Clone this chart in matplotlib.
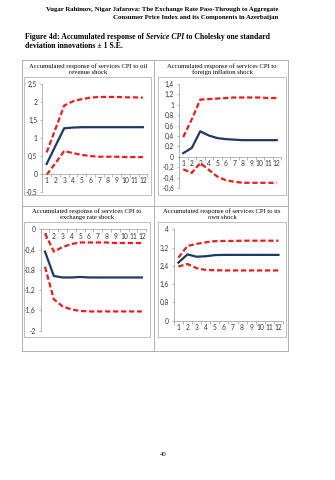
import matplotlib
matplotlib.use("Agg")
import matplotlib.pyplot as plt
from matplotlib.patches import Rectangle
from matplotlib.lines import Line2D
from matplotlib.ticker import FixedLocator, FixedFormatter, NullFormatter
import numpy as np

periods = list(range(1, 13))
xlabels = [str(p) for p in periods]

oil_resp = [0.28, 0.78, 1.27, 1.29, 1.30, 1.30, 1.30, 1.30, 1.30, 1.30, 1.30, 1.30]
oil_up = [0.60, 1.25, 1.90, 2.02, 2.08, 2.12, 2.14, 2.14, 2.14, 2.13, 2.13, 2.12]
oil_lo = [-0.02, 0.30, 0.64, 0.58, 0.53, 0.50, 0.48, 0.48, 0.48, 0.47, 0.47, 0.47]

fx_infl_resp = [0.07, 0.17, 0.49, 0.41, 0.36, 0.34, 0.33, 0.32, 0.32, 0.32, 0.32, 0.32]
fx_infl_up = [0.38, 0.72, 1.10, 1.11, 1.12, 1.13, 1.14, 1.14, 1.14, 1.14, 1.13, 1.13]
fx_infl_lo = [-0.24, -0.31, -0.12, -0.25, -0.38, -0.45, -0.48, -0.50, -0.50, -0.50, -0.50, -0.50]

exr_resp = [-0.44, -0.92, -0.95, -0.95, -0.94, -0.95, -0.95, -0.95, -0.95, -0.95, -0.95, -0.95]
exr_up = [-0.08, -0.44, -0.35, -0.29, -0.26, -0.26, -0.26, -0.26, -0.27, -0.27, -0.27, -0.27]
exr_lo = [-0.74, -1.38, -1.52, -1.58, -1.61, -1.62, -1.62, -1.62, -1.62, -1.62, -1.62, -1.62]

own_resp = [2.54, 2.90, 2.80, 2.82, 2.87, 2.88, 2.88, 2.88, 2.88, 2.88, 2.88, 2.88]
own_up = [2.76, 3.27, 3.36, 3.43, 3.48, 3.49, 3.49, 3.50, 3.50, 3.50, 3.50, 3.50]
own_lo = [2.37, 2.48, 2.30, 2.22, 2.21, 2.20, 2.20, 2.20, 2.20, 2.20, 2.20, 2.20]

titles = ["Accumulated response of services CPI to oil\nrevenue shock",
          "Accumulated response of services CPI to\nforeign inflation shock",
          "Accumulated response of services CPI to\nexchange rate shock",
          "Accumulated response of services CPI to its\nown shock"]

W, H = 335, 480
fig = plt.figure(figsize=(W / 100, H / 100), dpi=100)
fig.patch.set_facecolor("white")

def fx(x):
    return x / W

def fy(y):
    return 1 - y / H

serif = "Liberation Serif"
sans = "Lato"
NAVY = "#1f3864"
RED = "#e3201b"
GRAY = "#b0b0b0"

# Header
fig.text(fx(278), fy(9), "Vugar Rahimov, Nigar Jafarova: The Exchange Rate Pass-Through to Aggregate",
         ha="right", va="center", family=serif, weight="bold", fontsize=4.9)
fig.text(fx(278), fy(17.5), "Consumer Price Index and its Components in Azerbaijan",
         ha="right", va="center", family=serif, weight="bold", fontsize=4.9)

# Caption, composed of pieces (italic part in the middle)
renderer = fig.canvas.get_renderer()
cap_pieces = [("Figure 4d: Accumulated response of ", "normal"),
              ("Service CPI", "italic"),
              (" to Cholesky one standard", "normal")]
xcur = fx(25)
for txt, style in cap_pieces:
    t = fig.text(xcur, fy(37), txt, ha="left", va="center", family=serif, weight="bold",
                 style=style, fontsize=5.55)
    bb = t.get_window_extent(renderer=renderer)
    xcur += bb.width / W
fig.text(fx(25), fy(46.5), "deviation innovations \u00b1 1 S.E.",
         ha="left", va="center", family=serif, weight="bold", fontsize=5.55)

# Page number
fig.text(fx(163), fy(455), "40", ha="center", va="center", family=serif, fontsize=4.8)

# Table borders
def fline(x0, y0, x1, y1, color=GRAY, lw=0.7):
    fig.add_artist(Line2D([fx(x0), fx(x1)], [fy(y0), fy(y1)], color=color, lw=lw,
                          transform=fig.transFigure))

fline(22, 60, 288, 60)
fline(22, 351, 288, 351)
fline(22, 60, 22, 351)
fline(288, 60, 288, 351)
fline(154, 60, 154, 351)
fline(22, 206, 288, 206)

def fbox(x0, y0, x1, y1):
    fig.add_artist(Rectangle((fx(x0), fy(y1)), fx(x1) - fx(x0), fy(y0) - fy(y1),
                             transform=fig.transFigure, fill=False, ec="#bdbdbd", lw=0.7))

boxes = [(24, 77, 151, 195), (158, 77, 286, 195), (24, 222, 150, 337), (158, 222, 286, 337)]
for b in boxes:
    fbox(*b)

title_pos = [(88, 69), (222, 69), (87, 214), (222, 214)]
for (tx, ty), t in zip(title_pos, titles):
    fig.text(fx(tx), fy(ty), t, ha="center", va="center", family=serif, fontsize=4.8,
             linespacing=1.1)

panels = [
    dict(left=42.3, right=147.3, top=84, bottom=192, ylim=(-0.5, 2.5), yticks=np.arange(-0.5, 2.51, 0.5),
         resp=oil_resp, up=oil_up, lo=oil_lo),
    dict(left=179, right=281, top=84, bottom=188, ylim=(-0.6, 1.4), yticks=np.arange(-0.6, 1.41, 0.2),
         resp=fx_infl_resp, up=fx_infl_up, lo=fx_infl_lo),
    dict(left=40.6, right=146.2, top=229.3, bottom=330.7, ylim=(-2.0, 0.0), yticks=np.arange(-2.0, 0.01, 0.4),
         resp=exr_resp, up=exr_up, lo=exr_lo),
    dict(left=173.8, right=283, top=229.3, bottom=320.7, ylim=(0.0, 4.0), yticks=np.arange(0.0, 4.01, 0.8),
         resp=own_resp, up=own_up, lo=own_lo),
]

def fmt(v):
    v = round(v, 2)
    if abs(v) < 1e-9:
        return "0"
    s = ("%.2f" % v).rstrip("0").rstrip(".")
    return s.replace(".", ",")

for p in panels:
    ax = fig.add_axes([fx(p["left"]), fy(p["bottom"]), fx(p["right"]) - fx(p["left"]),
                       fy(p["top"]) - fy(p["bottom"])])
    ax.set_facecolor("none")
    ax.plot(periods, p["up"], color=RED, lw=1.6, ls=(0, (2.4, 1.2)), solid_capstyle="butt")
    ax.plot(periods, p["lo"], color=RED, lw=1.6, ls=(0, (2.4, 1.2)), solid_capstyle="butt")
    ax.plot(periods, p["resp"], color=NAVY, lw=1.6)
    ax.set_xlim(0.5, 12.5)
    ax.set_ylim(*p["ylim"])
    ax.yaxis.set_major_locator(FixedLocator(p["yticks"]))
    ax.yaxis.set_major_formatter(FixedFormatter([fmt(v) for v in p["yticks"]]))
    ax.xaxis.set_major_locator(FixedLocator(periods))
    ax.xaxis.set_major_formatter(FixedFormatter(xlabels))
    ax.xaxis.set_minor_locator(FixedLocator(np.arange(0.5, 12.6, 1.0)))
    ax.xaxis.set_minor_formatter(NullFormatter())
    ax.tick_params(axis="both", which="both", labelsize=4.8, labelfontfamily=sans,
                   labelcolor="#333333")
    ax.tick_params(axis="x", which="major", length=0, pad=2.5)
    ax.tick_params(axis="x", which="minor", length=1.8, width=0.5, color="#999999", direction="out")
    ax.tick_params(axis="y", which="major", length=1.8, width=0.5, color="#999999", pad=1.8)
    for s in ["top", "right"]:
        ax.spines[s].set_visible(False)
    ax.spines["left"].set_color("#999999")
    ax.spines["left"].set_linewidth(0.5)
    ax.spines["bottom"].set_color("#999999")
    ax.spines["bottom"].set_linewidth(0.5)
    ax.spines["bottom"].set_position(("data", 0))

fig.savefig("out.png", dpi=100, facecolor="white")
